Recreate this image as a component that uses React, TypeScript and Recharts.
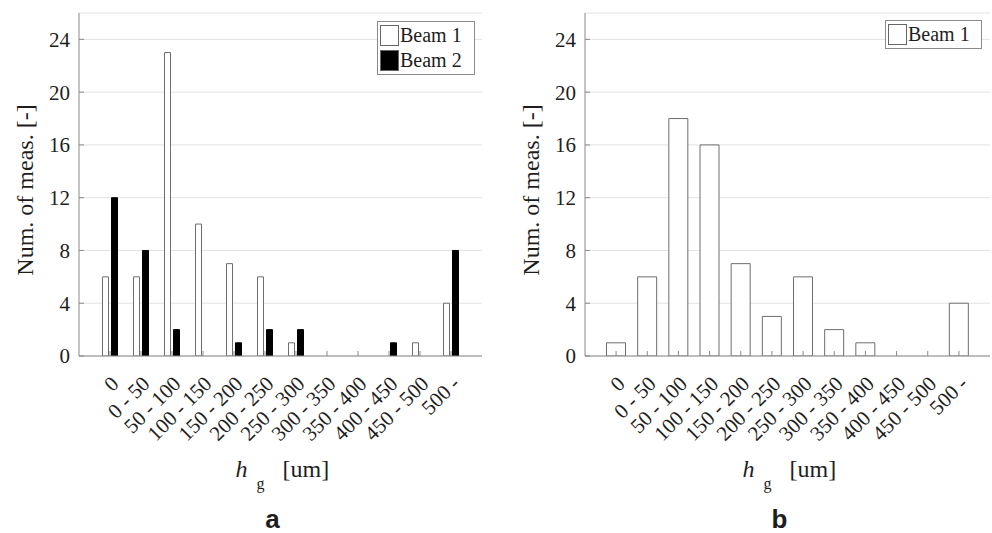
import React from 'react';
import { BarChart, Bar, XAxis, YAxis, CartesianGrid, Legend } from 'recharts';

const categories = ['0', '0 - 50', '50 - 100', '100 - 150', '150 - 200', '200 - 250', '250 - 300', '300 - 350', '350 - 400', '400 - 450', '450 - 500', '500 -'];
const beam1A = [6, 6, 23, 10, 7, 6, 1, 0, 0, 0, 1, 4];
const beam2A = [12, 8, 2, 0, 1, 2, 2, 0, 0, 1, 0, 8];
const beam1B = [1, 6, 18, 16, 7, 3, 6, 2, 1, 0, 0, 4];
const yTicks = [0, 4, 8, 12, 16, 20, 24];

const dataA = categories.map((c, i) => ({ name: c, beam1: beam1A[i], beam2: beam2A[i] }));
const dataB = categories.map((c, i) => ({ name: c, beam1: beam1B[i] }));

const serif = '"Liberation Serif", "Times New Roman", serif';
const axisColor = '#8a8a8a';
const textColor = '#1e1e1e';

const XTick = (props: any) => {
  const { x, y, payload } = props;
  return (
    <g transform={`translate(${x + 10},${y + 29})`}>
      <text textAnchor="end" transform="rotate(-45)" fontSize={21} fontFamily={serif} fill={textColor}>
        {payload.value}
      </text>
    </g>
  );
};

const NoTick = () => <g />;

const makeXLabel = (letter: string) => (props: any) => {
  const vb = props.viewBox;
  const cx = vb.x + vb.width / 2;
  const top = vb.y;
  return (
    <g>
      <text x={cx - 45} y={top + 121} fontFamily={serif} fontSize={24} fill={textColor}>
        <tspan fontStyle="italic">h</tspan>
        <tspan dx={9} dy={12} fontSize={16}>g</tspan>
        <tspan dx={18} dy={-12}>[um]</tspan>
      </text>
      <text x={cx - 8} y={top + 172} textAnchor="middle" fontFamily='"Liberation Sans", Arial, sans-serif' fontWeight="bold" fontSize={26} fill={textColor}>
        {letter}
      </text>
    </g>
  );
};

const YLabel = (props: any) => {
  const vb = props.viewBox;
  const px = vb.x + vb.width - 46;
  const py = 190;
  return (
    <text x={px} y={py} transform={`rotate(-90, ${px}, ${py})`} textAnchor="middle" fontFamily={serif} fontSize={24} fill={textColor}>
      Num. of meas. [-]
    </text>
  );
};

const LegendBox = ({ items, width }: { items: { name: string; fill: string }[]; width: number }) => (
  <div style={{ border: `1px solid ${axisColor}`, background: '#fff', width, boxSizing: 'border-box', padding: '1px 2px', fontFamily: serif, fontSize: 20, color: textColor }}>
    {items.map((it) => (
      <div key={it.name} style={{ display: 'flex', alignItems: 'center', height: 25 }}>
        <span style={{ display: 'inline-block', width: 17, height: 19, background: it.fill, border: '1px solid #666', marginRight: 1 }} />
        <span>{it.name}</span>
      </div>
    ))}
  </div>
);

function Panel({ data, letter, left, marginLeft, marginRight, twoSeries }: any) {
  const h = 533;
  const pad = 15.5;
  const items = twoSeries
    ? [
        { name: 'Beam 1', fill: '#fff' },
        { name: 'Beam 2', fill: '#000' },
      ]
    : [{ name: 'Beam 1', fill: '#fff' }];
  return (
    <div style={{ position: 'absolute', left, top: 0 }}>
      <BarChart
        width={496}
        height={h}
        data={data}
        margin={{ top: 13, right: marginRight, bottom: 7, left: marginLeft }}
        barGap={3}
        style={{ fontFamily: serif }}
      >
        <CartesianGrid horizontal vertical={false} stroke="#e2e2e2" />
        <XAxis
          dataKey="name"
          interval={0}
          height={170}
          padding={{ left: pad, right: pad }}
          stroke={axisColor}
          tickSize={-5}
          tickMargin={5}
          tick={<XTick />}
          label={{ content: makeXLabel(letter) }}
        />
        <XAxis xAxisId="top" orientation="top" dataKey="name" interval={0} height={0} padding={{ left: pad, right: pad }} stroke={axisColor} tickSize={-5} tick={<NoTick />} />
        <YAxis
          domain={[0, 26]}
          ticks={yTicks}
          allowDataOverflow
          width={40}
          stroke={axisColor}
          tickSize={-5}
          tickMargin={14}
          tick={{ fontSize: 21, fontFamily: serif, fill: textColor }}
          label={{ content: YLabel }}
        />
        <YAxis yAxisId="r" orientation="right" domain={[0, 26]} ticks={yTicks} allowDataOverflow width={0} stroke={axisColor} tickSize={-5} tick={<NoTick />} />
        {twoSeries ? (
          <>
            <Bar dataKey="beam1" name="Beam 1" fill="#fff" stroke="#6e6e6e" strokeWidth={1} barSize={6} isAnimationActive={false} />
            <Bar dataKey="beam2" name="Beam 2" fill="#000" stroke="#000" strokeWidth={1} barSize={6} isAnimationActive={false} />
          </>
        ) : (
          <Bar dataKey="beam1" name="Beam 1" fill="#fff" stroke="#6e6e6e" strokeWidth={1} barSize={19} isAnimationActive={false} />
        )}
        <Legend
          layout="vertical"
          align="center"
          verticalAlign="middle"
          wrapperStyle={twoSeries ? { left: 377, top: 21, width: 98 } : { left: 389, top: 20, width: 97 }}
          content={() => <LegendBox items={items} width={twoSeries ? 98 : 97} />}
        />
      </BarChart>
    </div>
  );
}

export default function App() {
  return (
    <div style={{ position: 'absolute', left: 0, top: 0, width: 992, height: 533, background: '#fff' }}>
      <Panel data={dataA} letter="a" left={0} marginLeft={39} marginRight={14} twoSeries />
      <Panel data={dataB} letter="b" left={496} marginLeft={49} marginRight={2} twoSeries={false} />
    </div>
  );
}
